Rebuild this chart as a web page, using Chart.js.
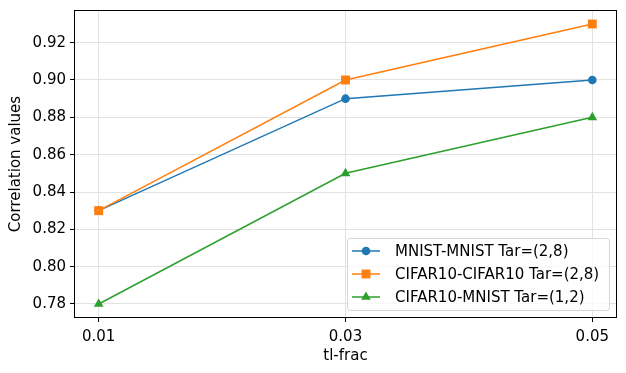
<!DOCTYPE html>
<html><head><meta charset="utf-8">
<script src="https://cdn.jsdelivr.net/npm/chart.js@4"></script>
<style>html,body{margin:0;padding:0;background:#fff}#wrap{width:626px;height:373px}</style>
</head><body><div id="wrap"><canvas id="c" width="626" height="373"></canvas></div>
<script>
const xValues = [0.01, 0.03, 0.05];
const xTickLabels = ['0.01', '0.03', '0.05'];
const yTicks = [0.78, 0.80, 0.82, 0.84, 0.86, 0.88, 0.90, 0.92];
const seriesNames = ['MNIST-MNIST Tar=(2,8)', 'CIFAR10-CIFAR10 Tar=(2,8)', 'CIFAR10-MNIST Tar=(1,2)'];
const mnistMnist = [0.83, 0.89, 0.90];
const cifarCifar = [0.83, 0.90, 0.93];
const cifarMnist = [0.78, 0.85, 0.88];
const colors = ['#1f77b4', '#ff7f0e', '#2ca02c'];
const markers = ['circle', 'rect', 'triangle'];
const markerRadius = [4.3, 6.3, 5.6];
const FONT = 'DejaVu Sans';

function pts(arr){ return arr.map((v,i)=>({x:xValues[i], y:v})); }
const allSeries = [mnistMnist, cifarCifar, cifarMnist];
const datasets = allSeries.map((s,i)=>({
  label: seriesNames[i], data: pts(s), borderColor: colors[i], backgroundColor: colors[i],
  borderWidth: 1.5, pointStyle: markers[i], pointRadius: markerRadius[i], pointBorderWidth: 0,
  pointHoverRadius: markerRadius[i], tension: 0, order: 2 - i
}));

const frame = {
  id: 'frame',
  afterDatasetsDraw(chart){
    const {ctx, chartArea:a} = chart;
    ctx.save();
    ctx.strokeStyle = '#000'; ctx.lineWidth = 1;
    ctx.strokeRect(Math.round(a.left)+0.5, Math.round(a.top)+0.5, Math.round(a.right-a.left)-1, Math.round(a.bottom-a.top)-1);
    // legend
    const lx = 347, ly = 238, lw = 262, lh = 72;
    ctx.fillStyle = 'rgba(255,255,255,0.8)';
    ctx.strokeStyle = '#d6d6d6';
    ctx.beginPath();
    if (ctx.roundRect) ctx.roundRect(lx+0.5, ly+0.5, lw, lh, 3); else ctx.rect(lx+0.5, ly+0.5, lw, lh);
    ctx.fill(); ctx.stroke();
    ctx.font = '15px "' + FONT + '"';
    ctx.textBaseline = 'middle';
    chart.data.datasets.forEach((d,i)=>{
      const y = ly + 13 + i*23;
      ctx.strokeStyle = d.borderColor; ctx.lineWidth = 1.5;
      ctx.beginPath(); ctx.moveTo(lx+5, y); ctx.lineTo(lx+33, y); ctx.stroke();
      ctx.fillStyle = d.borderColor;
      Chart.helpers.drawPoint(ctx, {pointStyle: d.pointStyle, radius: d.pointRadius, rotation: 0, borderWidth: 0}, lx+19, y);
      ctx.fillStyle = '#000';
      ctx.fillText(d.label, lx+48, y+1);
    });
    ctx.restore();
  }
};

new Chart(document.getElementById('c'), {
  type: 'line',
  data: { datasets },
  options: {
    responsive: false, animation: false, devicePixelRatio: 1,
    layout: { padding: { top: 10, right: 9, left: 0, bottom: 0 } },
    plugins: { legend: { display: false }, tooltip: { enabled: false } },
    scales: {
      x: {
        type: 'linear', min: 0.008, max: 0.052,
        afterBuildTicks(s){ s.ticks = xValues.map(v=>({value:v})); },
        afterFit(s){ s.height = 55; s.paddingLeft = 0; s.paddingRight = 0; },
        ticks: { callback(v){ const i = xValues.indexOf(v); return i>=0 ? xTickLabels[i] : ''; },
          color: '#000', font: { family: FONT, size: 15 }, padding: 6, maxRotation: 0, autoSkip: false },
        grid: { color: '#e2e2e2', lineWidth: 1, tickColor: '#000', tickLength: 4, drawTicks: true },
        border: { display: false },
        title: { display: true, text: 'tl-frac', color: '#000', font: { family: FONT, size: 15 }, padding: { top: 3, bottom: 8 } }
      },
      y: {
        type: 'linear', min: 0.7725, max: 0.9375,
        afterBuildTicks(s){ s.ticks = yTicks.map(v=>({value:v})); },
        afterFit(s){ s.width = 74; s.paddingTop = 0; s.paddingBottom = 0; },
        ticks: { callback(v){ return v.toFixed(2); }, color: '#000', font: { family: FONT, size: 15 }, padding: 4, autoSkip: false },
        grid: { color: '#e2e2e2', lineWidth: 1, tickColor: '#000', tickLength: 4, drawTicks: true },
        border: { display: false },
        title: { display: true, text: 'Correlation values', color: '#000', font: { family: FONT, size: 15 }, padding: { top: 7, bottom: 0 } }
      }
    }
  },
  plugins: [frame]
});
</script>
</body></html>
